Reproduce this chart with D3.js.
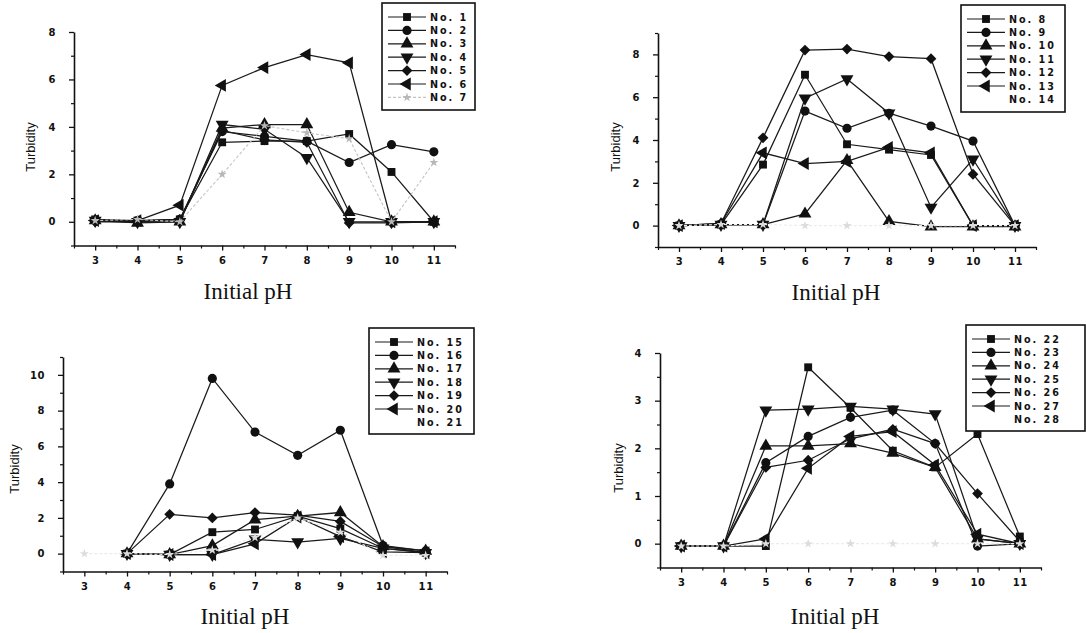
<!DOCTYPE html>
<html>
<head>
<meta charset="utf-8">
<script src="https://cdn.jsdelivr.net/npm/d3@7"></script>
<style>
  body { margin: 0; background: #fff; }
  svg { display: block; }
  .tick text { font-family: "DejaVu Sans", "Liberation Sans", Arial, sans-serif; font-weight: bold; font-size: 10px; letter-spacing: 0.6px; fill: #111; }
  .ylab { font-family: "Liberation Sans Narrow", "Liberation Sans", Arial, sans-serif; font-size: 13px; fill: #111; }
  .xlab { font-family: "Liberation Serif", "DejaVu Serif", serif; font-size: 23px; fill: #111; }
  .leg text { font-family: "DejaVu Sans", "Liberation Sans", Arial, sans-serif; font-weight: bold; font-size: 9.6px; letter-spacing: 2px; fill: #111; }
</style>
</head>
<body>
<svg id="root" width="1086" height="633"></svg>
<script>
// ---- data ----
const pH = [3, 4, 5, 6, 7, 8, 9, 10, 11];
const xTicks = [3, 4, 5, 6, 7, 8, 9, 10, 11];

const names1 = ["No. 1", "No. 2", "No. 3", "No. 4", "No. 5", "No. 6", "No. 7"];
const values1 = [
  [0.1, 0.05, 0.1, 3.35, 3.4, 3.4, 3.7, 2.1, 0],
  [0.05, 0.05, 0.1, 3.8, 3.6, 3.4, 2.5, 3.25, 2.95],
  [0.05, -0.05, 0, 3.95, 4.1, 4.1, 0.4, 0, 0],
  [0.05, 0, 0, 4.1, 3.9, 2.7, 0, 0, 0],
  [0, 0, 0.1, 3.85, 3.45, 3.35, -0.05, -0.05, 0],
  [0.05, 0.05, 0.7, 5.75, 6.5, 7.05, 6.7, 0, 0],
  [0.05, 0.1, 0, 2.0, 4.05, 3.75, 3.5, 0, 2.5]
];
const yTicks1 = [0, 2, 4, 6, 8];

const names2 = ["No. 8", "No. 9", "No. 10", "No. 11", "No. 12", "No. 13", "No. 14"];
const values2 = [
  [0, 0.05, 2.85, 7.05, 3.8, 3.55, 3.3, 0, 0],
  [0, 0.05, 0.05, 5.35, 4.55, 5.25, 4.65, 3.95, 0],
  [0, 0.05, 0.05, 0.55, 3.05, 0.2, -0.05, -0.05, -0.05],
  [0, 0.05, 0.05, 5.95, 6.85, 5.25, 0.85, 3.1, 0],
  [0, 0.1, 4.1, 8.2, 8.25, 7.9, 7.8, 2.4, 0],
  [0, 0.1, 3.4, 2.9, 3.0, 3.65, 3.4, 0, 0],
  [0, 0.05, 0.05, 0, 0, 0, 0, 0, 0]
];
const yTicks2 = [0, 2, 4, 6, 8];

const names3 = ["No. 15", "No. 16", "No. 17", "No. 18", "No. 19", "No. 20", "No. 21"];
const values3 = [
  [null, 0, -0.05, 1.2, 1.35, 2.1, 1.4, 0.3, 0.05],
  [null, 0, 3.9, 9.8, 6.8, 5.5, 6.9, 0.45, 0.15],
  [null, 0, -0.05, 0.45, 1.9, 2.1, 2.3, 0.4, 0.15],
  [null, 0, -0.05, -0.05, 0.8, 0.65, 0.85, 0.3, 0.05],
  [null, 0, 2.2, 2.0, 2.3, 2.15, 1.8, 0.4, 0.05],
  [null, 0, -0.05, -0.05, 0.55, 2.05, 0.95, 0.1, 0.05],
  [0, 0, -0.05, 0.2, 0.9, 2.0, 1.2, -0.1, -0.1]
];
const yTicks3 = [0, 2, 4, 6, 8, 10];

const names4 = ["No. 22", "No. 23", "No. 24", "No. 25", "No. 26", "No. 27", "No. 28"];
const values4 = [
  [-0.05, -0.05, -0.05, 3.7, 2.85, 1.95, 1.6, 2.3, 0.15],
  [-0.05, -0.05, 1.7, 2.25, 2.65, 2.8, 2.1, -0.05, 0],
  [-0.05, -0.05, 2.05, 2.05, 2.1, 1.9, 1.6, 0.1, 0],
  [-0.05, -0.05, 2.8, 2.82, 2.88, 2.82, 2.72, 0.1, 0],
  [-0.05, -0.05, 1.6, 1.75, 2.2, 2.4, 2.1, 1.05, 0.05],
  [-0.05, -0.05, 0.1, 1.58, 2.25, 2.35, 1.65, 0.2, 0],
  [-0.05, -0.05, 0, 0, 0, 0, 0, 0, 0]
];
const yTicks4 = [0, 1, 2, 3, 4];

// ---- layout ----
const panels = [
  { names: names1, values: values1, yTicks: yTicks1, yDomain: [-1, 8], minorStep: 1, faint: "#c4c4c4",
    left: 74, right: 455, bottom: 245.5, top: 32, legend: [382, 3, 93, 107],
    xlab: [248, 299], ylab: [35, 147] },
  { names: names2, values: values2, yTicks: yTicks2, yDomain: [-1, 9], minorStep: 1, faint: "#ececec",
    left: 658, right: 1036, bottom: 247, top: 33, legend: [961, 5, 104, 107],
    xlab: [836, 300], ylab: [620, 147] },
  { names: names3, values: values3, yTicks: yTicks3, yDomain: [-1, 11], minorStep: 1, faint: "#ececec",
    left: 63, right: 447, bottom: 571.5, top: 357, legend: [369, 328, 105, 106],
    xlab: [245, 624], ylab: [19, 469] },
  { names: names4, values: values4, yTicks: yTicks4, yDomain: [-0.5, 4], minorStep: 0.5, faint: "#ececec",
    left: 660, right: 1041, bottom: 567.5, top: 353, legend: [966, 325, 119, 106],
    xlab: [835, 624], ylab: [623, 468] }
];

const svg = d3.select("#root");

// marker shapes: square, circle, triangle up, down, diamond, left, faint star
function markerPath(i) {
  const s = d3.symbol();
  if (i === 0) return s.type(d3.symbolSquare).size(62)();
  if (i === 1) return s.type(d3.symbolCircle).size(66)();
  if (i === 4) return s.type(d3.symbolSquare).size(58)();
  if (i === 6) return s.type(d3.symbolStar).size(26)();
  return s.type(d3.symbolTriangle).size(72)();
}
function markerRotate(i) {
  if (i === 3) return 180;
  if (i === 4) return 45;
  if (i === 5) return -90;
  return 0;
}

panels.forEach(drawPanel);

function drawPanel(p) {
  const g = svg.append("g");

  const x = d3.scaleLinear().domain([2.5, 11.5]).range([p.left, p.right]);
  const y = d3.scaleLinear().domain(p.yDomain).range([p.bottom, p.top]);

  // minor ticks
  const xMinor = d3.range(2.5, 11.51, 0.5).filter(v => !xTicks.includes(v));
  const yMinor = d3.range(p.yDomain[0], p.yDomain[1] + 0.01, p.minorStep)
    .filter(v => !p.yTicks.includes(v));

  g.append("g")
    .attr("transform", `translate(0,${p.bottom})`)
    .call(d3.axisBottom(x).tickValues(xMinor).tickSize(3).tickFormat(""))
    .call(a => a.select(".domain").remove())
    .selectAll("line").attr("stroke", "#111").attr("stroke-width", 1.2);
  g.append("g")
    .attr("transform", `translate(${p.left},0)`)
    .call(d3.axisLeft(y).tickValues(yMinor).tickSize(3).tickFormat(""))
    .call(a => a.select(".domain").remove())
    .selectAll("line").attr("stroke", "#111").attr("stroke-width", 1.2);

  const xa = g.append("g")
    .attr("transform", `translate(0,${p.bottom})`)
    .call(d3.axisBottom(x).tickValues(xTicks).tickSize(5).tickSizeOuter(0).tickPadding(6));
  const ya = g.append("g")
    .attr("transform", `translate(${p.left},0)`)
    .call(d3.axisLeft(y).tickValues(p.yTicks).tickFormat(d3.format("d"))
      .tickSize(5).tickSizeOuter(0).tickPadding(13));
  [xa, ya].forEach(a => {
    a.select(".domain").attr("stroke", "#111").attr("stroke-width", 1.6);
    a.selectAll(".tick line").attr("stroke", "#111").attr("stroke-width", 1.3);
  });

  // lines and markers
  const line = d3.line()
    .defined(d => d[1] != null)
    .x(d => x(d[0]))
    .y(d => y(d[1]));

  p.values.forEach((vals, i) => {
    const pts = pH.map((v, k) => [v, vals[k]]);
    const faint = i === 6;
    g.append("path")
      .datum(pts)
      .attr("d", line)
      .attr("fill", "none")
      .attr("stroke", faint ? p.faint : "#1a1a1a")
      .attr("stroke-width", faint ? 1.1 : 1.25)
      .attr("stroke-dasharray", faint ? "3,2" : null);

    g.selectAll(null)
      .data(pts.filter(d => d[1] != null))
      .enter().append("path")
      .attr("d", markerPath(i))
      .attr("transform", d => `translate(${x(d[0])},${y(d[1])}) rotate(${markerRotate(i)})`)
      .attr("fill", faint ? (p.faint === "#c4c4c4" ? "#b8b8b8" : "#dcdcdc") : "#111");
  });

  // legend
  const [lx, ly, lw, lh] = p.legend;
  const leg = g.append("g").attr("class", "leg");
  leg.append("rect")
    .attr("x", lx).attr("y", ly).attr("width", lw).attr("height", lh)
    .attr("fill", "#fff").attr("stroke", "#111").attr("stroke-width", 1.6);
  p.names.forEach((name, i) => {
    const yy = ly + 14 + i * 13.4;
    const faint = i === 6;
    if (!faint || p.faint === "#c4c4c4") {
      leg.append("line")
        .attr("x1", lx + 6).attr("x2", lx + 44).attr("y1", yy).attr("y2", yy)
        .attr("stroke", faint ? p.faint : "#1a1a1a").attr("stroke-width", 1.2)
        .attr("stroke-dasharray", faint ? "3,2" : null);
      leg.append("path")
        .attr("d", markerPath(i))
        .attr("transform", `translate(${lx + 25},${yy}) rotate(${markerRotate(i)})`)
        .attr("fill", faint ? "#b8b8b8" : "#111");
    }
    leg.append("text")
      .attr("x", lx + 48).attr("y", yy + 3.5)
      .text(name);
  });

  // axis titles
  g.append("text")
    .attr("class", "xlab")
    .attr("x", p.xlab[0]).attr("y", p.xlab[1])
    .attr("text-anchor", "middle")
    .text("Initial pH");
  g.append("text")
    .attr("class", "ylab")
    .attr("transform", `translate(${p.ylab[0]},${p.ylab[1]}) rotate(-90)`)
    .attr("text-anchor", "middle")
    .text("Turbidity");
}
</script>
</body>
</html>
